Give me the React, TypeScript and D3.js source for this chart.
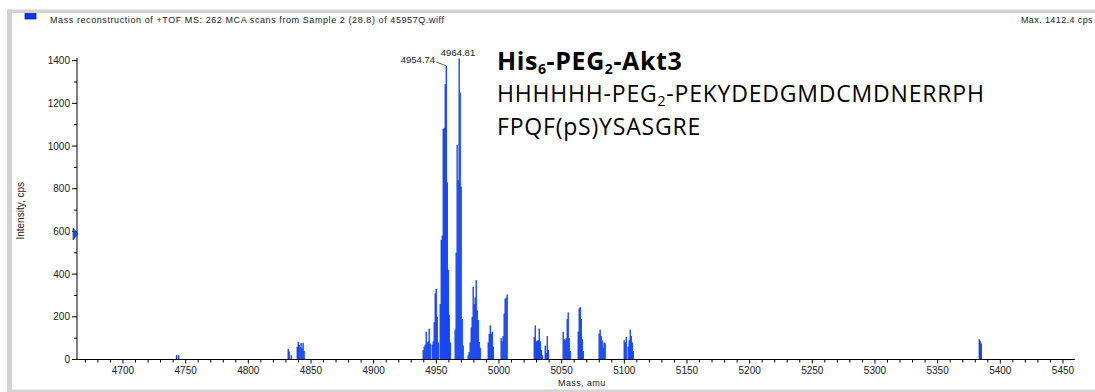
import React from 'react';
import * as d3 from 'd3';

const W = 1095;
const H = 392;

// axis tick labels
const xTickLabels = [4700, 4750, 4800, 4850, 4900, 4950, 5000, 5050, 5100, 5150, 5200, 5250, 5300, 5350, 5400, 5450];
const yTickLabels = [0, 200, 400, 600, 800, 1000, 1200, 1400];

// reconstructed spectrum sticks: [mass (amu), intensity (cps)]
const spectrum: [number, number][] = [
  [4742.6, 20], [4744.2, 20],
  [4831.7, 50], [4832.5, 38], [4834.1, 20],
  [4838.9, 60], [4839.7, 83], [4840.4, 68], [4841.2, 58], [4842.0, 77], [4842.8, 52], [4843.6, 78], [4844.4, 40],
  [4939.4, 45], [4940.2, 60], [4941.0, 70], [4941.8, 130], [4942.6, 80], [4943.4, 85], [4944.2, 145], [4945.0, 75],
  [4946.6, 70], [4947.4, 85], [4948.2, 175], [4949.0, 310], [4949.8, 330], [4950.6, 200], [4951.4, 80],
  [4953.0, 260], [4953.8, 560], [4954.6, 580], [4955.4, 1080], [4956.2, 1085], [4957.0, 1290], [4957.8, 1375],
  [4958.6, 830], [4959.4, 420], [4960.2, 210], [4961.0, 80],
  [4964.9, 140], [4965.7, 500], [4966.5, 1005], [4967.3, 840], [4968.1, 1410], [4968.9, 1250], [4969.7, 810],
  [4970.5, 190], [4971.3, 65],
  [4975.3, 20], [4976.1, 35], [4976.9, 80], [4977.7, 150], [4978.5, 200], [4979.3, 340], [4980.1, 260],
  [4980.9, 290], [4981.7, 372], [4982.5, 230], [4983.3, 185], [4984.1, 82], [4984.9, 55],
  [4991.3, 80], [4992.1, 120], [4992.9, 160], [4993.7, 120], [4994.5, 130], [4995.3, 60],
  [5001.6, 100], [5002.4, 85], [5003.2, 110], [5004.0, 215], [5004.8, 285], [5005.6, 290], [5006.4, 305],
  [5028.0, 105], [5028.8, 160], [5029.6, 85], [5030.4, 88], [5031.2, 90], [5032.0, 145], [5032.8, 85],
  [5033.6, 45], [5034.4, 20],
  [5036.8, 65], [5037.6, 30], [5038.4, 110], [5039.2, 45],
  [5051.1, 130], [5051.9, 95], [5052.7, 91], [5053.5, 100], [5054.3, 190], [5055.1, 221], [5055.9, 100], [5056.7, 40],
  [5063.1, 130], [5063.9, 240], [5064.7, 245], [5065.5, 190], [5066.3, 95], [5067.1, 40],
  [5079.8, 122], [5080.6, 140], [5081.4, 110], [5082.2, 90], [5083.0, 55], [5083.8, 80], [5084.6, 75],
  [5099.8, 90], [5100.6, 80], [5101.4, 105], [5103.0, 60], [5103.8, 90], [5104.6, 140], [5105.4, 110],
  [5106.2, 80], [5107.0, 40],
  [5383.1, 95], [5383.9, 85], [5384.7, 75],
];

// peak annotations
const peakMasses = [4957.8, 4968.1];
const peakTexts = ['4954.74', '4964.81'];

const maxIntensity = 1412.4;
const markerValue = 588;

const axisFont = '"Liberation Sans", Arial, sans-serif';
const noteFont = '"Open Sans", "Noto Sans", sans-serif';
const blue = '#0b3cf2';

const App = () => {
  const x = d3.scaleLinear().domain([4663.3, 5459.6]).range([77, 1075]);
  const y = d3.scaleLinear().domain([0, maxIntensity]).range([359.5, 58]);
  const step = 0.8; // sampling width of one stick

  const xMinor = d3.range(4670, 5460, 10);
  const yMinor = d3.range(100, 1400, 200);

  const peaks = peakMasses.map((m, i) => {
    const v = spectrum.find((d) => d[0] === m)![1];
    return { px: x(m), py: y(v), text: peakTexts[i] };
  });

  return (
    <svg width={W} height={H} style={{ position: 'absolute', left: 0, top: 0, background: '#fff' }}>
      {/* window frame */}
      <rect x={7} y={9.5} width={W - 7} height={3.5} fill="#d3d3d3" />
      <rect x={7} y={9.5} width={5} height={H - 9.5} fill="#d3d3d3" />
      <rect x={7} y={389.5} width={W - 7} height={2.5} fill="#d3d3d3" />

      {/* header */}
      <rect x={25} y={13.5} width={11} height={5.5} fill="#0036ff" stroke="#1a2a8a" strokeWidth={0.8} />
      <text x={50} y={23} fontFamily={axisFont} fontSize={9} letterSpacing={0.58} fill="#222">
        Mass reconstruction of +TOF MS: 262 MCA scans from Sample 2 (28.8) of 45957Q.wiff
      </text>
      <text x={1093} y={23} textAnchor="end" fontFamily={axisFont} fontSize={9} letterSpacing={0.4} fill="#222">Max. 1412.4 cps</text>

      {/* spectrum */}
      <g fill={blue}>
        {spectrum.map(([m, v], i) => (
          <rect key={i} x={x(m) - 0.5} y={y(v)} width={x(m + step) - x(m) + 0.3} height={y(0) - y(v)} />
        ))}
      </g>

      {/* y axis */}
      <line x1={77} x2={77} y1={y(maxIntensity)} y2={y(0)} stroke="#000" />
      {yTickLabels.map((t) => (
        <g key={t}>
          <line x1={72} x2={77} y1={y(t)} y2={y(t)} stroke="#000" />
          <text x={70} y={y(t) + 3.5} textAnchor="end" fontFamily={axisFont} fontSize={10} fill="#222">{t}</text>
        </g>
      ))}
      {yMinor.map((t) => (
        <line key={t} x1={74} x2={77} y1={y(t)} y2={y(t)} stroke="#000" />
      ))}
      <text transform={`translate(24,${(y(0) + y(maxIntensity)) / 2 + 2}) rotate(-90)`} textAnchor="middle"
        fontFamily={axisFont} fontSize={10} fill="#222">Intensity, cps</text>
      <path d={`M73,${y(markerValue) - 6}L78,${y(markerValue)}L73,${y(markerValue) + 6}Z`} fill="#1f4fd8" stroke="#0a2a90" strokeWidth={0.6} />

      {/* x axis */}
      <line x1={77} x2={1075} y1={y(0)} y2={y(0)} stroke="#000" />
      {xMinor.map((t) => (
        <line key={t} x1={x(t)} x2={x(t)} y1={y(0)} y2={y(0) + (t % 50 === 0 ? 4 : 3)} stroke="#000" />
      ))}
      {xTickLabels.map((t) => (
        <text key={t} x={x(t)} y={374} textAnchor="middle" fontFamily={axisFont} fontSize={10} fill="#222">{t}</text>
      ))}
      <text x={558} y={386} fontFamily={axisFont} fontSize={9} letterSpacing={0.4} fill="#222">Mass, amu</text>

      {/* peak labels */}
      <text x={peaks[0].px - 11} y={peaks[0].py - 2.5} textAnchor="end" fontFamily={axisFont} fontSize={9.5} fill="#222">{peaks[0].text}</text>
      <polyline points={`${peaks[0].px - 10},${peaks[0].py - 4} ${peaks[0].px - 2},${peaks[0].py - 1} ${peaks[0].px},${peaks[0].py}`}
        fill="none" stroke="#333" strokeWidth={0.8} />
      <text x={peaks[1].px - 1} y={peaks[1].py - 3} textAnchor="middle" fontFamily={axisFont} fontSize={9.5} fill="#222">{peaks[1].text}</text>

      {/* construct annotation */}
      <text x={497} y={69.5} fontFamily={noteFont} fontSize={25} fontWeight="bold" letterSpacing={0.6} fill="#000">
        His<tspan fontSize={14} dy={4}>6</tspan><tspan dy={-4}>-PEG</tspan><tspan fontSize={14} dy={4}>2</tspan><tspan dy={-4}>-Akt3</tspan>
      </text>
      <text x={497} y={102} fontFamily={noteFont} fontSize={23} letterSpacing={0.8} fill="#000">
        HHHHHH-PEG<tspan fontSize={14} dy={4}>2</tspan><tspan dy={-4}>-PEKYDEDGMDCMDNERRPH</tspan>
      </text>
      <text x={497} y={134.5} fontFamily={noteFont} fontSize={23} letterSpacing={0.8} fill="#000">FPQF(pS)YSASGRE</text>
    </svg>
  );
};

export default App;
